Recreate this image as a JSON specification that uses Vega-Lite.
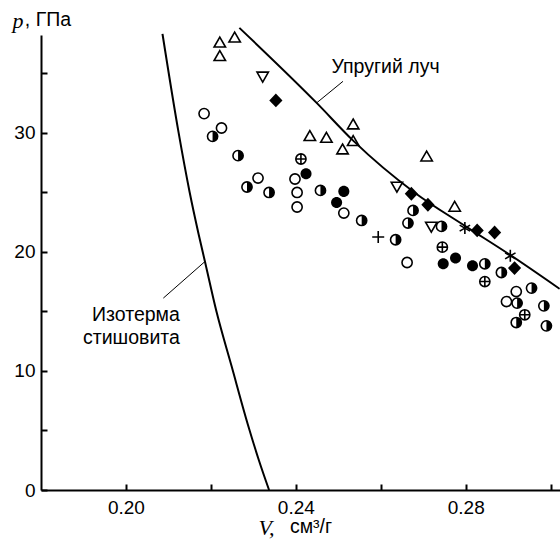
{
  "$schema": "https://vega.github.io/schema/vega-lite/v6.json",
  "autosize": "none",
  "width": 519,
  "height": 455,
  "padding": {"left": 41, "top": 35, "right": 0, "bottom": 49},
  "background": "white",
  "config": {
    "view": {"stroke": null},
    "axis": {
      "grid": false,
      "domainColor": "black",
      "domainWidth": 2,
      "tickColor": "black",
      "tickWidth": 2,
      "tickSize": -6,
      "labelFont": "Liberation Sans",
      "labelFontSize": 19,
      "labelColor": "black",
      "labelFlush": false,
      "labelOverlap": false,
      "titleFont": "Liberation Serif",
      "titleFontStyle": "italic",
      "titleFontWeight": "normal",
      "titleFontSize": 22,
      "titleColor": "black",
      "titleAngle": 0,
      "titleAlign": "left",
      "titleBaseline": "middle"
    }
  },
  "datasets": {
    "pts": [
      {"V": 0.2221, "p": 37.54, "s": "tu"},
      {"V": 0.2256, "p": 37.96, "s": "tu"},
      {"V": 0.2221, "p": 36.41, "s": "tu"},
      {"V": 0.2433, "p": 29.69, "s": "tu"},
      {"V": 0.2472, "p": 29.55, "s": "tu"},
      {"V": 0.2535, "p": 30.67, "s": "tu"},
      {"V": 0.2535, "p": 29.27, "s": "tu"},
      {"V": 0.2510, "p": 28.57, "s": "tu"},
      {"V": 0.2708, "p": 27.98, "s": "tu"},
      {"V": 0.2774, "p": 23.76, "s": "tu"},
      {"V": 0.2322, "p": 34.73, "s": "td"},
      {"V": 0.2638, "p": 25.49, "s": "td"},
      {"V": 0.2719, "p": 22.13, "s": "td"},
      {"V": 0.2353, "p": 32.71, "s": "d"},
      {"V": 0.2672, "p": 24.87, "s": "d"},
      {"V": 0.2711, "p": 23.95, "s": "d"},
      {"V": 0.2827, "p": 21.79, "s": "d"},
      {"V": 0.2868, "p": 21.62, "s": "d"},
      {"V": 0.2915, "p": 18.63, "s": "d"},
      {"V": 0.2184, "p": 31.60, "s": "o"},
      {"V": 0.2225, "p": 30.39, "s": "o"},
      {"V": 0.2311, "p": 26.19, "s": "o"},
      {"V": 0.2398, "p": 26.11, "s": "o"},
      {"V": 0.2403, "p": 24.98, "s": "o"},
      {"V": 0.2403, "p": 23.76, "s": "o"},
      {"V": 0.2513, "p": 23.25, "s": "o"},
      {"V": 0.2662, "p": 19.10, "s": "o"},
      {"V": 0.2919, "p": 16.66, "s": "o"},
      {"V": 0.2896, "p": 15.82, "s": "o"},
      {"V": 0.2204, "p": 29.69, "s": "h"},
      {"V": 0.2264, "p": 28.07, "s": "h"},
      {"V": 0.2285, "p": 25.44, "s": "h"},
      {"V": 0.2337, "p": 24.98, "s": "h"},
      {"V": 0.2458, "p": 25.15, "s": "h"},
      {"V": 0.2555, "p": 22.63, "s": "h"},
      {"V": 0.2676, "p": 23.47, "s": "h"},
      {"V": 0.2664, "p": 22.41, "s": "h"},
      {"V": 0.2743, "p": 22.13, "s": "h"},
      {"V": 0.2635, "p": 21.01, "s": "h"},
      {"V": 0.2845, "p": 18.99, "s": "h"},
      {"V": 0.2884, "p": 18.26, "s": "h"},
      {"V": 0.2955, "p": 16.95, "s": "h"},
      {"V": 0.2921, "p": 15.69, "s": "h"},
      {"V": 0.2984, "p": 15.46, "s": "h"},
      {"V": 0.2919, "p": 14.06, "s": "h"},
      {"V": 0.2990, "p": 13.78, "s": "h"},
      {"V": 0.2424, "p": 26.55, "s": "f"},
      {"V": 0.2513, "p": 25.07, "s": "f"},
      {"V": 0.2496, "p": 24.14, "s": "f"},
      {"V": 0.2747, "p": 18.99, "s": "f"},
      {"V": 0.2776, "p": 19.47, "s": "f"},
      {"V": 0.2816, "p": 18.82, "s": "f"},
      {"V": 0.2412, "p": 27.79, "s": "cp"},
      {"V": 0.2745, "p": 20.39, "s": "cp"},
      {"V": 0.2845, "p": 17.50, "s": "cp"},
      {"V": 0.2939, "p": 14.71, "s": "cp"},
      {"V": 0.2594, "p": 21.24, "s": "plus"},
      {"V": 0.2798, "p": 21.99, "s": "star"},
      {"V": 0.2905, "p": 19.66, "s": "star"}
    ],
    "iso": [
      {"V": 0.2086, "p": 38.3},
      {"V": 0.2124, "p": 30.0},
      {"V": 0.2150, "p": 25.0},
      {"V": 0.2171, "p": 21.5},
      {"V": 0.2186, "p": 19.18},
      {"V": 0.2213, "p": 15.0},
      {"V": 0.2249, "p": 10.36},
      {"V": 0.2287, "p": 5.5},
      {"V": 0.2313, "p": 2.5},
      {"V": 0.2337, "p": 0}
    ],
    "ray": [
      {"V": 0.2267, "p": 38.8},
      {"V": 0.2449, "p": 32.5},
      {"V": 0.2535, "p": 29.33},
      {"V": 0.2680, "p": 24.96},
      {"V": 0.2798, "p": 22.18},
      {"V": 0.2904, "p": 19.75},
      {"V": 0.3021, "p": 16.89}
    ],
    "leaders": [
      {"V": 0.2511, "p": 34.31, "V2": 0.2449, "p2": 32.5},
      {"V": 0.2186, "p": 19.18, "V2": 0.2088, "p2": 16.11}
    ],
    "textLeft": [
      {"V": 0.2484, "p": 35.5, "t": "Упругий луч"},
      {"V": 0.1762, "p": 39.5, "t": ", ГПа"},
      {"V": 0.2386, "p": -3.1, "t": "см³/г"}
    ],
    "textRight": [
      {"V": 0.2127, "p": 14.7, "t": "Изотерма"},
      {"V": 0.2127, "p": 12.8, "t": "стишовита"}
    ]
  },
  "encoding": {
    "x": {
      "field": "V",
      "type": "quantitative",
      "scale": {"domain": [0.18, 0.3022], "nice": false, "zero": false},
      "axis": {
        "values": [0.2, 0.22, 0.24, 0.26, 0.28, 0.3],
        "labelExpr": "round(datum.value * 100) % 4 == 0 ? format(datum.value, '.2f') : ''",
        "labelPadding": 14,
        "title": "V,",
        "titleX": 217,
        "titleY": 37
      }
    },
    "y": {
      "field": "p",
      "type": "quantitative",
      "scale": {"domain": [0, 38.2], "nice": false},
      "axis": {
        "values": [0, 5, 10, 15, 20, 25, 30, 35],
        "labelExpr": "datum.value % 10 == 0 ? datum.label : ''",
        "labelPadding": 12,
        "title": "p",
        "titleX": -29,
        "titleY": -15
      }
    }
  },
  "layer": [
    {
      "data": {"name": "iso"},
      "mark": {"type": "line", "color": "black", "strokeWidth": 2, "interpolate": "monotone"}
    },
    {
      "data": {"name": "ray"},
      "mark": {"type": "line", "color": "black", "strokeWidth": 2, "interpolate": "monotone"}
    },
    {
      "data": {"name": "leaders"},
      "mark": {"type": "rule", "color": "black", "strokeWidth": 1},
      "encoding": {
        "x2": {"field": "V2"},
        "y2": {"field": "p2"}
      }
    },
    {
      "data": {"name": "pts"},
      "transform": [{"filter": "indexof(['f', 'd'], datum.s) < 0"}],
      "mark": {"type": "point", "filled": false, "color": "black", "strokeWidth": 1.6, "size": 144, "opacity": 1},
      "encoding": {
        "shape": {
          "field": "s",
          "type": "nominal",
          "legend": null,
          "scale": {
            "domain": ["o", "h", "cp", "tu", "td", "plus", "star"],
            "range": [
              "M0.85,0A0.85,0.85,0,1,1,-0.85,0A0.85,0.85,0,1,1,0.85,0Z",
              "M0.85,0A0.85,0.85,0,1,1,-0.85,0A0.85,0.85,0,1,1,0.85,0Z",
              "M0.85,0A0.85,0.85,0,1,1,-0.85,0A0.85,0.85,0,1,1,0.85,0ZM-0.85,0H0.85M0,-0.85V0.85",
              "M0,-0.95L0.95,0.7H-0.95Z",
              "M0,0.95L0.95,-0.7H-0.95Z",
              "M-1,0H1M0,-1V1",
              "M0,-1V1M-0.87,-0.5L0.87,0.5M-0.87,0.5L0.87,-0.5"
            ]
          }
        }
      }
    },
    {
      "data": {"name": "pts"},
      "transform": [{"filter": "indexof(['f', 'd', 'h'], datum.s) >= 0"}],
      "mark": {"type": "point", "filled": true, "color": "black", "strokeWidth": 0, "size": 144, "opacity": 1},
      "encoding": {
        "shape": {
          "field": "s",
          "type": "nominal",
          "legend": null,
          "scale": {
            "domain": ["h", "f", "d"],
            "range": [
              "M0,-0.85A0.85,0.85,0,0,1,0,0.85Z",
              "M0.92,0A0.92,0.92,0,1,1,-0.92,0A0.92,0.92,0,1,1,0.92,0Z",
              "M0,-1.15L1.1,0L0,1.15L-1.1,0Z"
            ]
          }
        }
      }
    },
    {
      "data": {"name": "textLeft"},
      "mark": {"type": "text", "align": "left", "baseline": "middle", "font": "Liberation Sans", "fontSize": 19.5, "color": "black"},
      "encoding": {"text": {"field": "t"}}
    },
    {
      "data": {"name": "textRight"},
      "mark": {"type": "text", "align": "right", "baseline": "middle", "font": "Liberation Sans", "fontSize": 19.5, "color": "black"},
      "encoding": {"text": {"field": "t"}}
    }
  ],
  "resolve": {"scale": {"shape": "independent"}}
}
